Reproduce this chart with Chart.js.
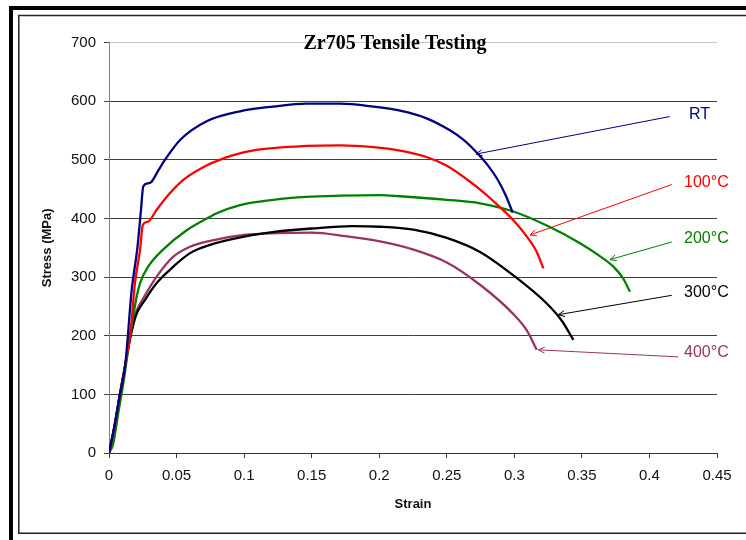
<!DOCTYPE html>
<html>
<head>
<meta charset="utf-8">
<script src="https://cdn.jsdelivr.net/npm/chart.js@4.4.1/dist/chart.umd.min.js"></script>
<style>
  body { margin: 0; background: #fff; }
  canvas { display: block; }
</style>
</head>
<body>
<canvas id="tensileChart" width="746" height="540"></canvas>
<script>
// strain / stress
const rtStrain = [0, 0.004, 0.008, 0.012, 0.0168, 0.021, 0.0235, 0.0254, 0.029, 0.0316, 0.036, 0.0414, 0.0526, 0.0723, 0.097, 0.1216, 0.146, 0.171, 0.1956, 0.2154, 0.235, 0.252, 0.262, 0.2716, 0.28, 0.2875, 0.2935, 0.2988];
const rtStress = [0, 45, 99, 150, 278, 350, 410, 455, 460, 463, 480, 500, 534, 566, 583, 591, 596, 596, 591, 584, 571, 551, 535, 514, 492, 467, 440, 410];

const c100Strain = [0, 0.004, 0.008, 0.012, 0.0165, 0.0192, 0.023, 0.025, 0.029, 0.0353, 0.045, 0.055, 0.0735, 0.0797, 0.09, 0.109, 0.146, 0.171, 0.1956, 0.2154, 0.235, 0.25, 0.2648, 0.278, 0.29, 0.2993, 0.309, 0.316, 0.3215];
const c100Stress = [0, 45, 99, 150, 220, 290, 347, 389, 395, 415, 443, 466, 492, 498, 507, 517, 524, 525, 522, 516, 505, 490, 467, 443, 418, 397, 370, 346, 315];

const c200Strain = [0, 0.003, 0.007, 0.011, 0.015, 0.0205, 0.023, 0.029, 0.040, 0.0575, 0.0748, 0.0797, 0.097, 0.1216, 0.146, 0.171, 0.2006, 0.2154, 0.25, 0.2746, 0.2993, 0.324, 0.3486, 0.362, 0.3733, 0.3805, 0.3856];
const c200Stress = [0, 15, 70, 125, 190, 267, 290, 318, 347, 380, 403, 409, 423, 432, 437, 439, 440, 438, 432, 426, 412, 388, 358, 338, 318, 298, 275];

const c300Strain = [0, 0.004, 0.008, 0.012, 0.016, 0.02, 0.0266, 0.0353, 0.0476, 0.06, 0.0748, 0.1, 0.125, 0.15, 0.18, 0.2006, 0.2253, 0.25, 0.2746, 0.2993, 0.324, 0.335, 0.3437];
const c300Stress = [0, 45, 99, 150, 200, 235, 261, 290, 318, 341, 355, 369, 378, 383, 387, 386, 381, 367, 343, 303, 255, 226, 193];

const c400Strain = [0, 0.004, 0.008, 0.012, 0.016, 0.02, 0.0254, 0.0353, 0.0476, 0.06, 0.0748, 0.1, 0.125, 0.15, 0.175, 0.2006, 0.2253, 0.25, 0.2746, 0.2993, 0.309, 0.3166];
const c400Stress = [0, 45, 99, 150, 200, 240, 264, 301, 335, 352, 362, 372, 375, 376, 370, 361, 347, 325, 287, 237, 210, 176];

const seriesNames = ['RT', '100°C', '200°C', '300°C', '400°C'];
const seriesColors = ['#000080', '#ff0000', '#008000', '#000000', '#993366'];
const xTickLabels = ['0', '0.05', '0.1', '0.15', '0.2', '0.25', '0.3', '0.35', '0.4', '0.45'];

// callout labels: text spot and arrow tail/head in (strain, stress)
const labelAt = [[0.4293, 577], [0.4256, 461], [0.4256, 365], [0.4256, 274], [0.4256, 171]];
const arrowTail = [[0.415, 574], [0.4165, 458], [0.4165, 360], [0.4165, 269], [0.4214, 164]];
const arrowHead = [[0.2716, 510], [0.3116, 372], [0.3708, 330], [0.3326, 236], [0.3178, 176]];

const toPoints = (xs, ys) => xs.map((x, i) => ({ x: x, y: ys[i] }));
const allSeries = [
    toPoints(rtStrain, rtStress),
    toPoints(c100Strain, c100Stress),
    toPoints(c200Strain, c200Stress),
    toPoints(c300Strain, c300Stress),
    toPoints(c400Strain, c400Stress)
];

const framePlugin = {
    id: 'frame',
    beforeDraw(chart) {
        const ctx = chart.ctx;
        ctx.save();
        ctx.fillStyle = '#fff';
        ctx.fillRect(0, 0, chart.width, chart.height);
        ctx.fillStyle = '#000';
        ctx.fillRect(9, 6, chart.width - 9, 4);
        ctx.fillRect(9, 6, 4, chart.height - 6);
        ctx.strokeStyle = '#222';
        ctx.lineWidth = 1.5;
        ctx.beginPath();
        ctx.moveTo(chart.width, 15.5);
        ctx.lineTo(18.8, 15.5);
        ctx.lineTo(18.8, 533.3);
        ctx.lineTo(chart.width, 533.3);
        ctx.stroke();
        ctx.restore();
    }
};

const calloutPlugin = {
    id: 'callouts',
    afterDatasetsDraw(chart) {
        const ctx = chart.ctx;
        const xs = chart.scales.x, ys = chart.scales.y;
        ctx.save();
        ctx.font = '16px "Liberation Sans", Arial, sans-serif';
        ctx.textBaseline = 'middle';
        ctx.textAlign = 'left';
        seriesNames.forEach((name, i) => {
            const tx = xs.getPixelForValue(arrowTail[i][0]), ty = ys.getPixelForValue(arrowTail[i][1]);
            const hx = xs.getPixelForValue(arrowHead[i][0]), hy = ys.getPixelForValue(arrowHead[i][1]);
            ctx.strokeStyle = seriesColors[i];
            ctx.lineWidth = 1;
            ctx.beginPath();
            ctx.moveTo(tx, ty);
            ctx.lineTo(hx, hy);
            const ang = Math.atan2(ty - hy, tx - hx);
            [0.45, -0.45].forEach(d => {
                ctx.moveTo(hx, hy);
                ctx.lineTo(hx + 7 * Math.cos(ang + d), hy + 7 * Math.sin(ang + d));
            });
            ctx.stroke();
            ctx.fillStyle = seriesColors[i];
            ctx.fillText(name, xs.getPixelForValue(labelAt[i][0]), ys.getPixelForValue(labelAt[i][1]));
        });
        ctx.restore();
    }
};

const titlePlugin = {
    id: 'plotTitle',
    afterDraw(chart) {
        const ctx = chart.ctx;
        ctx.save();
        ctx.font = 'bold 20px "Liberation Serif", "Times New Roman", serif';
        ctx.fillStyle = '#000';
        ctx.textAlign = 'center';
        ctx.textBaseline = 'middle';
        ctx.fillText('Zr705 Tensile Testing', 395, 44);
        ctx.restore();
    }
};

Chart.defaults.font.family = '"Liberation Sans", Arial, sans-serif';
Chart.defaults.color = '#111';

new Chart(document.getElementById('tensileChart'), {
    type: 'line',
    data: {
        datasets: allSeries.map((pts, i) => ({
            label: seriesNames[i],
            data: pts,
            borderColor: seriesColors[i],
            borderWidth: 2.3,
            pointRadius: 0,
            cubicInterpolationMode: 'monotone',
            fill: false
        }))
    },
    options: {
        responsive: false,
        animation: false,
        devicePixelRatio: 1,
        layout: { padding: { top: 42.7, right: 29, left: 20, bottom: 0 } },
        plugins: { legend: { display: false }, tooltip: { enabled: false } },
        scales: {
            x: {
                type: 'linear',
                min: 0,
                max: 0.45,
                afterFit: s => { s.height = 87; },
                border: { color: '#333', width: 1 },
                grid: { drawOnChartArea: false, tickLength: 5, tickColor: '#333' },
                ticks: {
                    stepSize: 0.05,
                    padding: 9,
                    font: { size: 15 },
                    maxRotation: 0,
                    callback: (v, i) => xTickLabels[i]
                },
                title: { display: true, text: 'Strain', font: { size: 13, weight: 'bold' }, padding: { bottom: 28 } }
            },
            y: {
                min: 0,
                max: 700,
                afterFit: s => { s.width = 89; },
                border: { color: '#808080', width: 1 },
                grid: {
                    tickLength: 5,
                    tickColor: '#404040',
                    color: c => c.tick && c.tick.value === 700 ? '#c8c8c8' : '#404040'
                },
                ticks: { stepSize: 100, padding: 8, font: { size: 15 } },
                title: { display: true, text: 'Stress (MPa)', font: { size: 13, weight: 'bold' }, padding: { top: 20 } }
            }
        }
    },
    plugins: [framePlugin, calloutPlugin, titlePlugin]
});
</script>
</body>
</html>
